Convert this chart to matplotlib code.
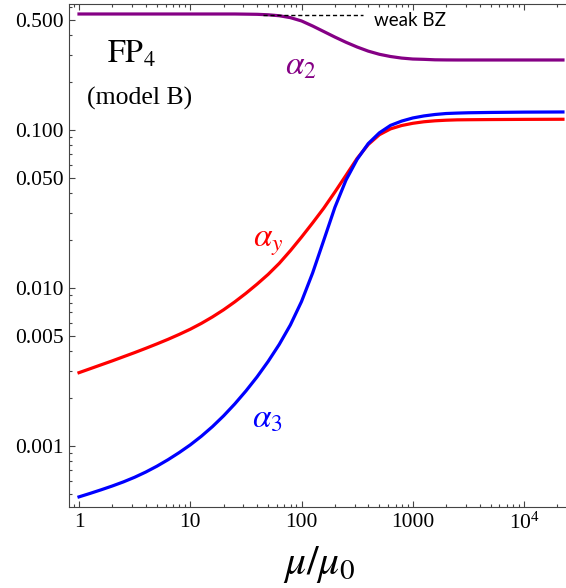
import numpy as np
import matplotlib
matplotlib.use("Agg")
import matplotlib.pyplot as plt
import matplotlib.ticker as mticker

plt.rcParams['font.family'] = ['Liberation Serif', 'DejaVu Serif']
plt.rcParams['mathtext.fontset'] = 'stix'

# scale mu/mu0 (roughly 10 points per decade)
mu = [1, 1.259, 1.585, 1.995, 2.512, 3.162, 3.981, 5.012, 6.310, 7.943,
      10, 12.59, 15.85, 19.95, 25.12, 31.62, 39.81, 50.12, 63.10, 79.43,
      100, 125.9, 158.5, 199.5, 251.2, 316.2, 398.1, 501.2, 631.0, 794.3,
      1000, 1259, 1585, 1995, 2512, 3162, 5012, 10000, 22390]

# couplings
alpha_y = [0.002911, 0.003083, 0.003266, 0.003459, 0.003673, 0.003899, 0.004150,
           0.004426, 0.004732, 0.005082, 0.005483, 0.005970, 0.006561, 0.007278,
           0.008166, 0.009247, 0.01057, 0.01219, 0.01432, 0.01722, 0.02099,
           0.02582, 0.03199, 0.04046, 0.05164, 0.06607, 0.08091, 0.09333,
           0.1016, 0.1067, 0.1102, 0.1127, 0.1143, 0.1153, 0.1159, 0.1161,
           0.1164, 0.1167, 0.1169]
alpha_3 = [0.0004764, 0.0005012, 0.0005284, 0.0005585, 0.0005929, 0.0006339,
           0.0006839, 0.0007447, 0.0008185, 0.0009078, 0.001016, 0.001153,
           0.001327, 0.001552, 0.001845, 0.002228, 0.002735, 0.003428, 0.004395,
           0.005834, 0.008204, 0.01245, 0.02004, 0.03236, 0.04819, 0.06516,
           0.08204, 0.09594, 0.1069, 0.1138, 0.1191, 0.1227, 0.1253, 0.1271,
           0.1279, 0.1285, 0.1291, 0.1297, 0.1300]
alpha_2 = [0.5420, 0.5420, 0.5420, 0.5420, 0.5420, 0.5420, 0.5420, 0.5420,
           0.5420, 0.5420, 0.5420, 0.5420, 0.5420, 0.5420, 0.5420, 0.5408,
           0.5395, 0.5358, 0.5284, 0.5140, 0.4898, 0.4550, 0.4198, 0.3873,
           0.3589, 0.3350, 0.3155, 0.3013, 0.2917, 0.2851, 0.2812, 0.2799,
           0.2780, 0.2775, 0.2773, 0.2773, 0.2773, 0.2773, 0.2773]

# weak BZ reference line
bz_mu = [45, 357]
bz_val = [0.534, 0.534]

xticks = [1, 10, 100, 1000, 10000]
xticklabels = ['1', '10', '100', '1000', r'$\mathregular{10^4}$']
yticks = [0.001, 0.005, 0.010, 0.050, 0.100, 0.500]
yticklabels = ['0.001', '0.005', '0.010', '0.050', '0.100', '0.500']

fig = plt.figure(figsize=(5.66, 5.88), dpi=100)
ax = fig.add_axes([69 / 566, 81 / 588, 497 / 566, 503 / 588])

ax.plot(mu, alpha_2, color='#850085', lw=2.3, solid_joinstyle='round')
ax.plot(mu, alpha_y, color='#ff0000', lw=2.3, solid_joinstyle='round')
ax.plot(mu, alpha_3, color='#0000ff', lw=2.3, solid_joinstyle='round')
ax.plot(bz_mu, bz_val, color='black', lw=1, linestyle=(0, (3, 2)))

ax.set_xscale('log')
ax.set_yscale('log')
ax.set_xlim(0.813, 23850)
ax.set_ylim(0.000411, 0.627)

ax.xaxis.set_major_locator(mticker.FixedLocator(xticks))
ax.xaxis.set_major_formatter(mticker.FixedFormatter(xticklabels))
ax.xaxis.set_minor_locator(mticker.LogLocator(base=10, subs=np.arange(2, 10)))
ax.xaxis.set_minor_formatter(mticker.NullFormatter())
ax.yaxis.set_major_locator(mticker.FixedLocator(yticks))
ax.yaxis.set_major_formatter(mticker.FixedFormatter(yticklabels))
ax.yaxis.set_minor_locator(mticker.LogLocator(base=10, subs=np.arange(1, 10)))
ax.yaxis.set_minor_formatter(mticker.NullFormatter())

ax.tick_params(which='both', direction='in', top=True, right=False,
               color='#444444', width=0.8, labelsize=15.5, pad=4)
ax.tick_params(which='major', length=4.5)
ax.tick_params(which='minor', length=2.2)
for s in ['left', 'bottom', 'top']:
    ax.spines[s].set_color('#444444')
    ax.spines[s].set_linewidth(0.8)
ax.spines['right'].set_visible(False)

# labels
ax.text(0.0765, 0.883, r'$\mathrm{FP}_4$', transform=ax.transAxes, fontsize=23, va='baseline')
ax.text(0.036, 0.801, '(model B)', transform=ax.transAxes, fontsize=18.5, va='baseline')
ax.text(0.4346, 0.859, r'$\alpha_2$', transform=ax.transAxes, fontsize=24,
        color='#850085', va='baseline')
ax.text(0.370, 0.517, r'$\alpha_y$', transform=ax.transAxes, fontsize=24,
        color='#ff0000', va='baseline')
ax.text(0.368, 0.159, r'$\alpha_3$', transform=ax.transAxes, fontsize=24,
        color='#0000ff', va='baseline')
ax.text(448, 0.49, 'weak BZ', fontsize=13.5, family='Lato', va='center')

fig.text(0.565, 0.04, r'$\mu/\mu_0$', fontsize=30, ha='center', va='center')

fig.savefig('out.png', dpi=100)
